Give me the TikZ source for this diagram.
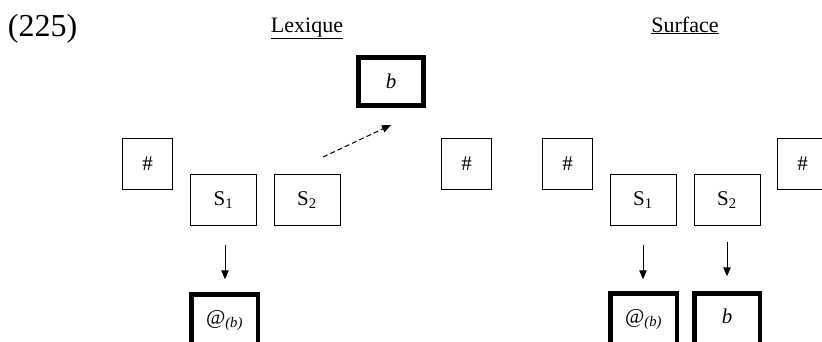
\documentclass[tikz,border=0pt]{standalone}
\usepackage{fontspec}
\setmainfont{Liberation Serif}
\usetikzlibrary{arrows.meta}
\tikzset{
  thinbox/.style={draw, line width=1pt, inner sep=0pt, font=\fontsize{21}{24}\selectfont},
  hashbox/.style={thinbox, minimum width=50pt, minimum height=51pt},
  sbox/.style={thinbox, minimum width=66pt, minimum height=51pt},
  thickbox/.style={draw, line width=4.5pt, inner sep=0pt, minimum width=66pt, minimum height=48pt, font=\fontsize{21}{24}\selectfont},
  lowbox/.style={thickbox, minimum height=64pt},
  downarrow/.style={line width=1pt, -{Triangle[length=9pt,width=7.5pt]}},
  dasharrow/.style={line width=1pt, dash pattern=on 5pt off 3pt, -{Triangle[length=9pt,width=7.5pt]}},
  heading/.style={font=\fontsize{22}{26}\selectfont, inner sep=0pt}
}
\begin{document}
\begin{tikzpicture}[x=1pt,y=-1pt]
\useasboundingbox (0,0) rectangle (822,341);
\clip (0,0) rectangle (822,341);
\node[inner sep=0pt, font=\fontsize{32}{36}\selectfont] (num) at (42.5,29) {(225)};
\node[heading, anchor=base] (lex) at (307,32) {\underline{Lexique}};
\node[heading, anchor=base] (surf) at (685,32) {\underline{Surface}};
% Lexique
\node[hashbox] (h1) at (147.5,164) {\#};
\node[sbox] (ls1) at (223.5,200) {S\textsubscript{1}};
\node[sbox] (ls2) at (307,200) {S\textsubscript{2}};
\node[thickbox, line width=5pt, minimum width=65pt] (lb) at (391,81.5) {\textit{b}};
\node[hashbox] (h2) at (466.5,164) {\#};
\node[lowbox, minimum width=66.5pt] (la) at (224.5,326.5) {\raisebox{18pt}{@\textsubscript{\textit{(b)}}}};
\coordinate (dstart) at (323,157);
\coordinate (dend) at (391,125);
\draw[dasharrow] (dstart) -- (dend);
\draw[downarrow] ([yshift=-19pt]ls1.south -| 225,0) -- ([yshift=13pt]la.north -| 225,0);
% Surface
\node[hashbox] (h3) at (567.5,164) {\#};
\node[sbox] (rs1) at (643,200) {S\textsubscript{1}};
\node[sbox] (rs2) at (727,200) {S\textsubscript{2}};
\node[hashbox] (h4) at (802.5,164) {\#};
\node[lowbox, minimum width=66.5pt] (ra) at (643.5,325.5) {\raisebox{18pt}{@\textsubscript{\textit{(b)}}}};
\node[lowbox, minimum width=65.5pt] (rb) at (727,325.5) {\raisebox{18pt}{\textit{b}}};
\draw[downarrow] ([yshift=-19pt]rs1.south) -- ([yshift=12pt]ra.north -| rs1.south);
\draw[downarrow] ([yshift=-16pt]rs2.south) -- ([yshift=15pt]rb.north);
\end{tikzpicture}
\end{document}
